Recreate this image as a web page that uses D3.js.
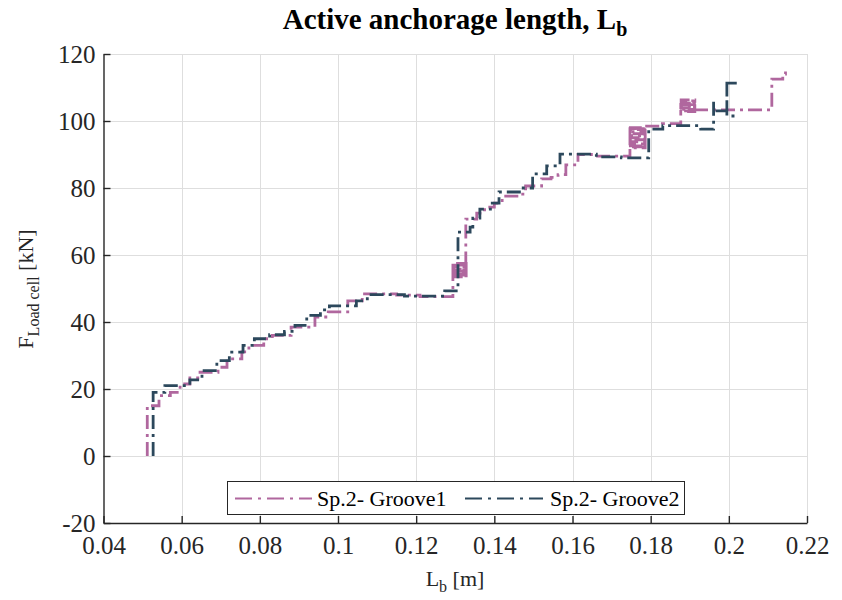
<!DOCTYPE html>
<html>
<head>
<meta charset="utf-8">
<script src="https://cdn.jsdelivr.net/npm/d3@7"></script>
<style>
  html, body { margin: 0; padding: 0; background: #ffffff; }
  svg { display: block; font-family: "Liberation Serif", "Times New Roman", serif; }
</style>
</head>
<body>
<svg id="chart" width="842" height="600"></svg>
<script>
// ---- data ----
const xTicks = [0.04, 0.06, 0.08, 0.1, 0.12, 0.14, 0.16, 0.18, 0.2, 0.22];
const xTickLabels = ["0.04", "0.06", "0.08", "0.1", "0.12", "0.14", "0.16", "0.18", "0.2", "0.22"];
const yTicks = [-20, 0, 20, 40, 60, 80, 100, 120];
const yTickLabels = ["-20", "0", "20", "40", "60", "80", "100", "120"];
const seriesNames = ["Sp.2- Groove1", "Sp.2- Groove2"];

// Sp.2- Groove1 (step vertices: L_b [m], F [kN])
const g1x = [0.0512, 0.0512, 0.0542, 0.0571, 0.0596, 0.0621, 0.0647, 0.0693, 0.0716, 0.0754,
             0.0772, 0.0810, 0.0832, 0.0880, 0.0941, 0.0975, 0.1025, 0.1062, 0.1150, 0.1210,
             0.1294, 0.1328, 0.1295, 0.1327, 0.1294, 0.1328, 0.1295, 0.1327, 0.1294, 0.1328,
             0.1296, 0.1327, 0.1295, 0.1327, 0.1327, 0.1355,
             0.1375, 0.1400, 0.1420, 0.1463, 0.1480, 0.1521, 0.1545, 0.1563, 0.1583, 0.1614,
             0.1657, 0.1747, 0.1786, 0.1748, 0.1785, 0.1747, 0.1786, 0.1748, 0.1785, 0.1747,
             0.1786, 0.1748, 0.1785, 0.1747, 0.1786, 0.1785, 0.1830,
             0.1877, 0.1913, 0.1878, 0.1912, 0.1877, 0.1913, 0.1878, 0.1912, 0.1877, 0.1913,
             0.1878, 0.1913, 0.2110, 0.2138, 0.2145];
const g1y = [0, 15, 18, 19, 21.5, 23.3, 25, 26.5, 29, 31.1,
             33, 35, 36, 38.5, 41.5, 43, 46.3, 48.4, 48, 47.6,
             53.5, 57.5, 54, 57, 54.6, 56.4, 55.2, 55.8, 53.8, 57.2,
             54.3, 56.7, 55.5, 56, 70.7, 72.5,
             74.3, 75.5, 77.6, 78.2, 80.6, 82.7, 83.2, 84, 86.9, 90,
             89.5, 92, 98, 92.6, 97.4, 93.2, 96.8, 93.8, 96.2, 94.4,
             95.6, 95, 92.3, 97.7, 93.5, 98.5, 99.2,
             103, 106.3, 103.5, 105.8, 104, 105.3, 104.5, 104.9, 102.8, 106,
             103.8, 103.3, 112.5, 114, 115.5];

// Sp.2- Groove2
const g2x = [0.0527, 0.0527, 0.0557, 0.0621, 0.0652, 0.0690, 0.0722, 0.0757, 0.0786, 0.0825,
             0.0863, 0.0890, 0.0920, 0.0955, 0.0978, 0.1047, 0.1075, 0.1170, 0.1273, 0.1307,
             0.1338, 0.1345, 0.1363, 0.1390, 0.1412, 0.1470, 0.1498, 0.1534, 0.1568, 0.1661,
             0.1725, 0.1795, 0.1831, 0.1928, 0.1961, 0.1961, 0.1995, 0.2025, 0.1995, 0.2022];
const g2y = [0, 19, 21, 22.7, 25.5, 28.5, 31, 33, 35, 36.2,
             37.2, 39, 42, 43.6, 44.8, 46.3, 48.2, 47.7, 49.3, 66.8,
             68.3, 71, 73.7, 75.5, 78.8, 80, 84.2, 86.6, 90.1, 89.3,
             89, 97.6, 98.6, 97.6, 106, 103, 111.3, 111.3, 101.5, 101.5];

// ---- layout ----
const colors = ["#B0679E", "#2C485C"];
const dash = "14,5,3,5";
const svg = d3.select("#chart");
const x = d3.scaleLinear().domain([0.04, 0.22]).range([103.5, 807]);
const y = d3.scaleLinear().domain([-20, 120]).range([523, 54]);

// grid
const grid = svg.append("g").attr("stroke", "#dedede").attr("stroke-width", 1);
grid.selectAll("line.gx").data(xTicks.slice(1)).enter().append("line")
  .attr("x1", d => Math.round(x(d)) + 0.5).attr("x2", d => Math.round(x(d)) + 0.5)
  .attr("y1", y(120)).attr("y2", y(-20));
grid.selectAll("line.gy").data(yTicks.slice(1)).enter().append("line")
  .attr("y1", d => Math.round(y(d)) + 0.5).attr("y2", d => Math.round(y(d)) + 0.5)
  .attr("x1", x(0.04)).attr("x2", x(0.22));

// clip
svg.append("clipPath").attr("id", "clip").append("rect")
  .attr("x", x(0.04)).attr("y", y(120)).attr("width", x(0.22) - x(0.04)).attr("height", y(-20) - y(120));

const line = d3.line().curve(d3.curveStepAfter).x(d => x(d[0])).y(d => y(d[1]));
const s1 = g1x.map((v, i) => [v, g1y[i]]);
const s2 = g2x.map((v, i) => [v, g2y[i]]);
const plot = svg.append("g").attr("clip-path", "url(#clip)");
[s1, s2].forEach((s, i) => {
  plot.append("path").datum(s)
    .attr("d", line)
    .attr("fill", "none")
    .attr("stroke", colors[i])
    .attr("stroke-width", 2.8)
    .attr("stroke-dasharray", dash);
});

// axes
const axisColor = "#262626";
const xAxis = d3.axisBottom(x).tickValues(xTicks).tickFormat((d, i) => xTickLabels[i])
  .tickSizeInner(-7).tickSizeOuter(0).tickPadding(13);
const yAxis = d3.axisLeft(y).tickValues(yTicks).tickFormat((d, i) => yTickLabels[i])
  .tickSizeInner(-7).tickSizeOuter(0).tickPadding(8);
const gx = svg.append("g").attr("transform", `translate(0,${y(-20)})`).call(xAxis);
const gy = svg.append("g").attr("transform", `translate(${x(0.04)},0)`).call(yAxis);
[gx, gy].forEach(g => {
  g.attr("font-family", null).attr("font-size", null);
  g.select(".domain").attr("stroke", axisColor).attr("stroke-width", 1.4);
  g.selectAll(".tick line").attr("stroke", axisColor).attr("stroke-width", 1.4);
  g.selectAll(".tick text").attr("fill", axisColor)
    .style("font-family", "'Liberation Serif', serif").style("font-size", "25px");
});
gx.selectAll(".tick text").attr("dy", "0.71em");
gy.selectAll(".tick text").attr("dy", "0.34em");

// title
const title = svg.append("text").attr("x", 455).attr("y", 29).attr("text-anchor", "middle")
  .attr("fill", "#000").style("font-size", "29px").style("font-weight", "bold");
title.append("tspan").text("Active anchorage length, L");
title.append("tspan").attr("dy", 7).style("font-size", "20px").text("b");

// x label
const xl = svg.append("text").attr("x", 455).attr("y", 586).attr("text-anchor", "middle")
  .attr("fill", axisColor).style("font-size", "22px");
xl.append("tspan").text("L");
xl.append("tspan").attr("dy", 6).style("font-size", "16px").text("b");
xl.append("tspan").attr("dy", -6).text(" [m]");

// y label
const yl = svg.append("text").attr("transform", "translate(33,289) rotate(-90)").attr("text-anchor", "middle")
  .attr("fill", axisColor).style("font-size", "22px");
yl.append("tspan").text("F");
yl.append("tspan").attr("dy", 6).style("font-size", "16px").text("Load cell");
yl.append("tspan").attr("dy", -6).text(" [kN]");

// legend
const lg = svg.append("g");
lg.append("rect").attr("x", 227.5).attr("y", 481.5).attr("width", 457).attr("height", 33)
  .attr("fill", "#fff").attr("stroke", axisColor).attr("stroke-width", 1);
const legX = [[235, 312, 317], [465, 543, 550]];
seriesNames.forEach((n, i) => {
  lg.append("line").attr("x1", legX[i][0]).attr("x2", legX[i][1]).attr("y1", 498.5).attr("y2", 498.5)
    .attr("stroke", colors[i]).attr("stroke-width", 2.2).attr("stroke-dasharray", "17,6,3,6");
  lg.append("text").attr("x", legX[i][2]).attr("y", 506).attr("fill", "#000")
    .style("font-size", "22px").text(n);
});
</script>
</body>
</html>
